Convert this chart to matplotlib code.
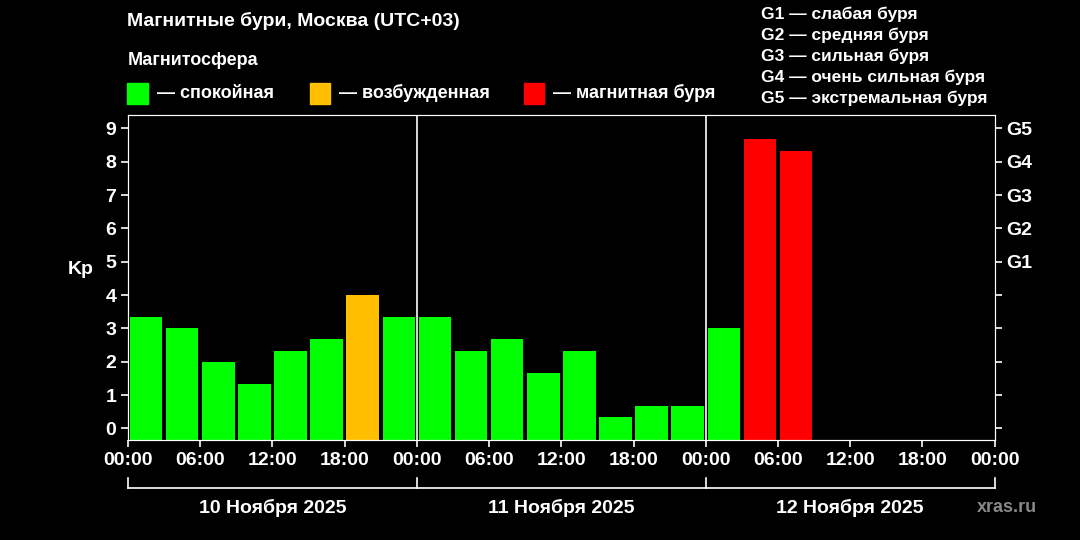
import matplotlib
matplotlib.use('Agg')
import matplotlib.pyplot as plt

kp = [3.33, 3, 2, 1.33, 2.33, 2.67, 4, 3.33,
      3.33, 2.33, 2.67, 1.67, 2.33, 0.33, 0.67, 0.67,
      3, 8.67, 8.33]
hours = [3 * i + 1.5 for i in range(len(kp))]
day_labels = ['10 Ноября 2025', '11 Ноября 2025', '12 Ноября 2025']
tick_labels = ['00:00', '06:00', '12:00', '18:00'] * 3 + ['00:00']
g_labels = ['G1', 'G2', 'G3', 'G4', 'G5']
g_legend = ['G1 — слабая буря', 'G2 — средняя буря', 'G3 — сильная буря',
            'G4 — очень сильная буря', 'G5 — экстремальная буря']


def color_for(v):
    if v >= 5:
        return '#ff0000'
    if v >= 4:
        return '#ffbf00'
    return '#00ff00'


plt.rcParams['font.family'] = ['Liberation Sans', 'DejaVu Sans']
plt.rcParams['font.weight'] = 'bold'
fig = plt.figure(figsize=(10.8, 5.4), dpi=100, facecolor='black')
ax = fig.add_axes([0.1185, 0.185, 0.8025, 0.602], facecolor='black')
ymin = -0.35
ax.bar(hours, [v - ymin for v in kp], bottom=ymin, width=2.7, color=[color_for(v) for v in kp])
ax.set_xlim(0, 72)
ax.set_ylim(ymin, 9.4)
for s in ax.spines.values():
    s.set_color('white')
for d in (24, 48):
    ax.axvline(d, color='white', lw=1.2)
ax.set_xticks(range(0, 73, 6))
ax.set_xticklabels(tick_labels)
ax.set_yticks(range(10))
ax.tick_params(colors='white', labelsize=14, width=1.2, length=5)
for t in ax.get_xticklabels() + ax.get_yticklabels():
    t.set_fontweight('bold')
ax.set_ylabel('Kp', color='white', fontsize=14, fontweight='bold', rotation=0, labelpad=18)

ax2 = ax.twinx()
ax2.set_ylim(ax.get_ylim())
ax2.set_yticks(range(10))
ax2.set_yticklabels([''] * 5 + g_labels)
ax2.tick_params(colors='white', labelsize=14, width=1.2, length=5)
for t in ax2.get_yticklabels():
    t.set_fontweight('bold')
for s in ax2.spines.values():
    s.set_color('white')

# day brackets
trans = ax.get_xaxis_transform()
ax.plot([0, 72], [-0.148, -0.148], color='white', lw=1.2, transform=trans, clip_on=False)
for d in (0, 24, 48, 72):
    ax.plot([d, d], [-0.148, -0.118], color='white', lw=1.2, transform=trans, clip_on=False)
for i, lab in enumerate(day_labels):
    ax.text(i * 24 + 12, -0.21, lab, color='white', fontsize=14, fontweight='bold',
            ha='center', va='center', transform=trans)

fig.text(0.118, 0.962, 'Магнитные бури, Москва (UTC+03)', color='white', fontsize=14,
         fontweight='bold', va='center')
fig.text(0.118, 0.888, 'Магнитосфера', color='white', fontsize=13, fontweight='bold', va='center')
legend_items = [('#00ff00', '— спокойная', 0.118), ('#ffbf00', '— возбужденная', 0.287),
                ('#ff0000', '— магнитная буря', 0.485)]
for c, lab, x in legend_items:
    fig.patches.append(plt.Rectangle((x, 0.808), 0.019, 0.038, color=c, transform=fig.transFigure))
    fig.text(x + 0.027, 0.827, lab, color='white', fontsize=13, fontweight='bold', va='center')
for i, lab in enumerate(g_legend):
    fig.text(0.705, 0.974 - i * 0.039, lab, color='white', fontsize=12.5, fontweight='bold', va='center')
fig.text(0.96, 0.06, 'xras.ru', color='#888888', fontsize=13, ha='right', va='center')

fig.savefig('out.png', dpi=100, facecolor='black')
